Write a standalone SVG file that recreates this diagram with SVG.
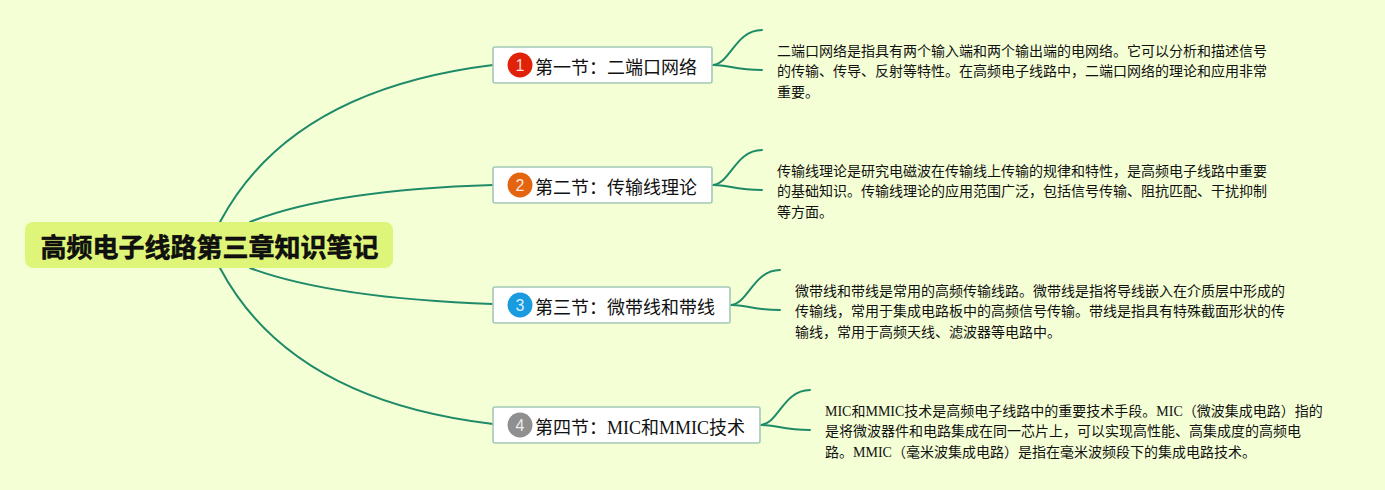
<svg xmlns="http://www.w3.org/2000/svg" width="1385" height="490" viewBox="0 0 1385 490">
<style>
text{font-family:"Liberation Serif","Noto Sans CJK SC",serif;fill:#111}
.conn path{fill:none;stroke:#1f8a68;stroke-width:2;stroke-linecap:round}
.topic{fill:#fff;stroke:#a3c9b6;stroke-width:1.6}
.tt{font-size:18px}
.body{font-size:14px}
.num{font-family:"Liberation Sans","Noto Sans CJK SC",sans-serif;font-size:16px;fill:#fff;fill-opacity:.85;text-anchor:middle}
</style>
<rect width="1385" height="490" fill="#f5ffd6"/>
<g id="connectors" class="conn">
<path d="M220 222Q290 90 493 65"/>
<path d="M250 222Q330 190 493 185"/>
<path d="M250 268Q330 298 493 304"/>
<path d="M220 268Q290 400 493 424"/>
<path d="M712 65C730 65 735 30 762 30"/>
<path d="M712 65C725 64 735 70 762 70"/>
<path d="M712 185C730 185 735 150 762 150"/>
<path d="M712 185C725 184 735 190 762 190"/>
<path d="M730 305C748 305 753 270 780 270"/>
<path d="M730 305C743 304 753 310 780 310"/>
<path d="M760 425C778 425 783 390 810 390"/>
<path d="M760 425C773 424 783 430 810 430"/>
</g>
<g id="root">
<rect x="25" y="222" width="368" height="46" rx="8" fill="#dff57a"/>
<text x="40.500" y="257" font-size="26" font-weight="700" fill="#000" stroke="#000" stroke-width=".5" style="font-family:'Noto Sans CJK SC','Liberation Sans',sans-serif">高频电子线路第三章知识笔记</text>
</g>
<g id="topic1">
<rect class="topic" x="493" y="47" width="219" height="36" rx="2"/>
<circle cx="520" cy="65" r="12.500" fill="#e02208"/>
<text class="num" x="520" y="71">1</text>
<text class="tt" x="535" y="73.500">第一节：二端口网络</text>
</g>
<g id="detail1">
<text class="body" x="777" y="55.500">二端口网络是指具有两个输入端和两个输出端的电网络。它可以分析和描述信号</text>
<text class="body" x="777" y="76">的传输、传导、反射等特性。在高频电子线路中，二端口网络的理论和应用非常</text>
<text class="body" x="777" y="96.500">重要。</text>
</g>
<g id="topic2">
<rect class="topic" x="493" y="167" width="219" height="36" rx="2"/>
<circle cx="520" cy="185" r="12.500" fill="#e4650f"/>
<text class="num" x="520" y="191">2</text>
<text class="tt" x="535" y="193.500">第二节：传输线理论</text>
</g>
<g id="detail2">
<text class="body" x="777" y="175.500">传输线理论是研究电磁波在传输线上传输的规律和特性，是高频电子线路中重要</text>
<text class="body" x="777" y="196">的基础知识。传输线理论的应用范围广泛，包括信号传输、阻抗匹配、干扰抑制</text>
<text class="body" x="777" y="216.500">等方面。</text>
</g>
<g id="topic3">
<rect class="topic" x="493" y="287" width="237" height="36" rx="2"/>
<circle cx="520" cy="305" r="12.500" fill="#1a9be0"/>
<text class="num" x="520" y="311">3</text>
<text class="tt" x="535" y="313.500">第三节：微带线和带线</text>
</g>
<g id="detail3">
<text class="body" x="795" y="295.500">微带线和带线是常用的高频传输线路。微带线是指将导线嵌入在介质层中形成的</text>
<text class="body" x="795" y="316">传输线，常用于集成电路板中的高频信号传输。带线是指具有特殊截面形状的传</text>
<text class="body" x="795" y="336.500">输线，常用于高频天线、滤波器等电路中。</text>
</g>
<g id="topic4">
<rect class="topic" x="493" y="407" width="267" height="36" rx="2"/>
<circle cx="520" cy="425" r="12.500" fill="#8f8f8f"/>
<text class="num" x="520" y="431">4</text>
<text class="tt" x="535" y="433.500">第四节：MIC和MMIC技术</text>
</g>
<g id="detail4">
<text class="body" x="825" y="415.500">MIC和MMIC技术是高频电子线路中的重要技术手段。MIC（微波集成电路）指的</text>
<text class="body" x="825" y="436">是将微波器件和电路集成在同一芯片上，可以实现高性能、高集成度的高频电</text>
<text class="body" x="825" y="456.500">路。MMIC（毫米波集成电路）是指在毫米波频段下的集成电路技术。</text>
</g>
</svg>
